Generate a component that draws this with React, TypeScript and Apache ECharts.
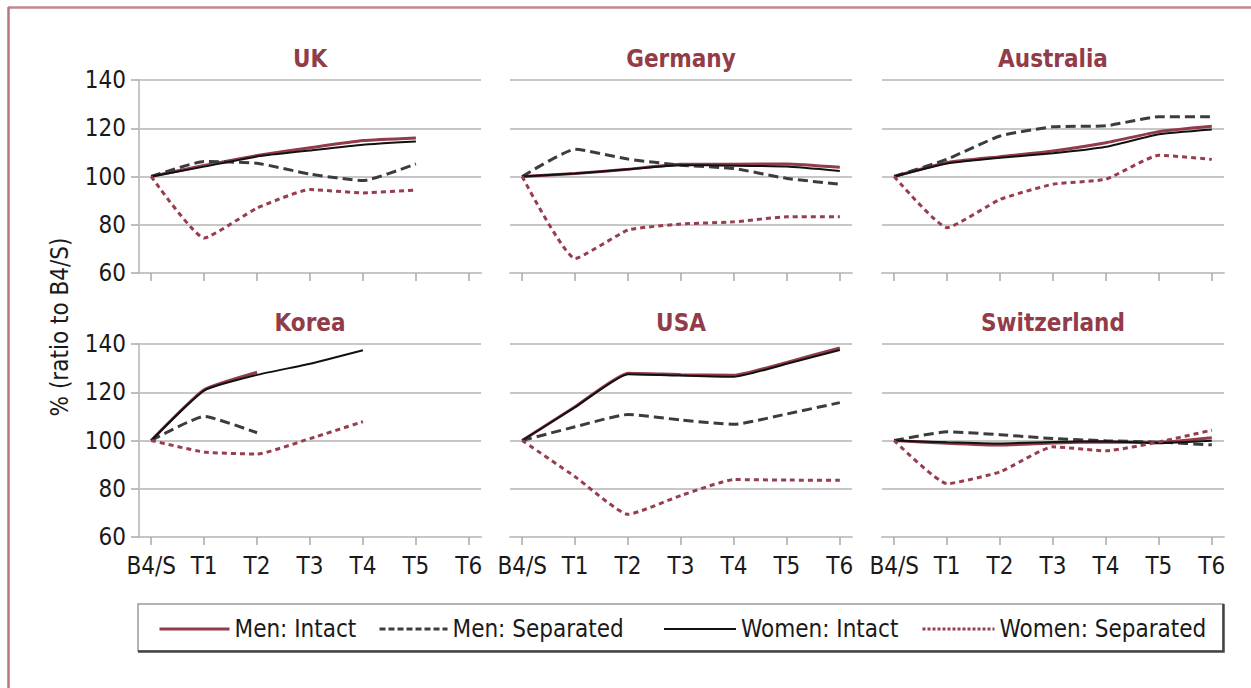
import React, { useEffect, useRef } from 'react';
import * as echarts from 'echarts';

const categories = ['B4/S', 'T1', 'T2', 'T3', 'T4', 'T5', 'T6'];
const countries = ['UK', 'Germany', 'Australia', 'Korea', 'USA', 'Switzerland'];
const seriesNames = ['Men: Intact', 'Men: Separated', 'Women: Intact', 'Women: Separated'];
const yTicks = [60, 80, 100, 120, 140];

// values per country, order of categories (null = no observation)
const ukMenIntact = [100, 104.6, 108.7, 111.9, 114.9, 116.0, null];
const ukMenSeparated = [100, 106.2, 105.5, 101.0, 98.3, 105.2, null];
const ukWomenIntact = [100, 104.1, 108.3, 110.8, 113.2, 114.5, null];
const ukWomenSeparated = [100, 74.5, 86.9, 94.6, 93.2, 94.4, null];

const deMenIntact = [100, 101.2, 103.0, 105.1, 105.1, 105.2, 103.8];
const deMenSeparated = [100, 111.3, 107.2, 104.7, 103.3, 99.2, 96.8];
const deWomenIntact = [100, 101.2, 103.0, 104.7, 104.5, 104.1, 102.3];
const deWomenSeparated = [100, 66.0, 77.8, 80.3, 81.2, 83.3, 83.3];

const auMenIntact = [100, 105.8, 108.2, 110.6, 114.0, 118.6, 120.8];
const auMenSeparated = [100, 107.2, 116.8, 120.6, 121.0, 124.8, 124.8];
const auWomenIntact = [100, 105.4, 107.8, 109.6, 112.3, 117.5, 119.5];
const auWomenSeparated = [100, 78.8, 90.5, 96.8, 98.9, 108.8, 107.1];

const krMenIntact = [100, 121.0, 128.3, null, null, null, null];
const krMenSeparated = [100, 110.0, 103.2, null, null, null, null];
const krWomenIntact = [100, 120.7, 127.2, 131.8, 137.4, null, null];
const krWomenSeparated = [100, 95.2, 94.4, 100.8, 107.8, null, null];

const usMenIntact = [100, 114.0, 127.9, 127.3, 127.0, 132.4, 138.4];
const usMenSeparated = [100, 105.7, 110.8, 108.5, 106.7, 111.0, 115.7];
const usWomenIntact = [100, 113.8, 127.5, 126.9, 126.4, 131.8, 137.5];
const usWomenSeparated = [100, 85.0, 69.4, 77.2, 83.8, 83.6, 83.5];

const chMenIntact = [100, 98.9, 98.1, 99.0, 99.4, 99.2, 101.1];
const chMenSeparated = [100, 103.6, 102.4, 100.8, 99.9, 99.3, 98.2];
const chWomenIntact = [100, 99.3, 98.8, 99.4, 99.7, 98.9, 99.9];
const chWomenSeparated = [100, 82.1, 87.0, 97.4, 95.7, 99.4, 104.3];

const countryData: (number | null)[][][] = [
  [ukMenIntact, ukMenSeparated, ukWomenIntact, ukWomenSeparated],
  [deMenIntact, deMenSeparated, deWomenIntact, deWomenSeparated],
  [auMenIntact, auMenSeparated, auWomenIntact, auWomenSeparated],
  [krMenIntact, krMenSeparated, krWomenIntact, krWomenSeparated],
  [usMenIntact, usMenSeparated, usWomenIntact, usWomenSeparated],
  [chMenIntact, chMenSeparated, chWomenIntact, chWomenSeparated],
];

const FONT = "'DejaVu Sans Condensed', 'Liberation Sans Narrow', 'DejaVu Sans', sans-serif";
const RED = '#923b49';
const GRID = '#b4b4b4';
const AXIS = '#c6c6c6';

const lineStyles = [
  { color: RED, width: 3, type: 'solid' as any },
  { color: '#3c3c3c', width: 3, type: [10, 5] as any },
  { color: '#111111', width: 2, type: 'solid' as any },
  { color: '#973d4d', width: 3, type: [5, 4] as any },
];
const legendDash: any[] = ['solid', [6, 3], 'solid', [3, 2]];
const drawOrder = [1, 3, 2, 0];

const gridLefts = [139, 510, 882];
const gridTops = [80, 344];
const gridW = 342;
const gridH = 193;
const tickIdx = categories.map((_, i) => i);

function buildOption(): any {
  const grids: any[] = [];
  const xAxes: any[] = [];
  const yAxes: any[] = [];
  const titles: any[] = [];
  const series: any[] = [];

  countries.forEach((name, k) => {
    const row = Math.floor(k / 3);
    const col = k % 3;
    const left = gridLefts[col];
    const top = gridTops[row];
    grids.push({ left, top, width: gridW, height: gridH, containLabel: false });
    titles.push({
      text: name,
      left: left + gridW / 2,
      top: top - 33,
      textAlign: 'center',
      padding: 0,
      textStyle: { color: RED, fontSize: 24, fontWeight: 'bold', fontFamily: FONT },
    });
    xAxes.push({
      type: 'value',
      gridIndex: k,
      min: -0.23,
      max: 6.23,
      axisLine: { show: true, onZero: false, lineStyle: { color: AXIS, width: 2 } },
      axisTick: {
        show: true,
        customValues: tickIdx,
        length: 8,
        lineStyle: { color: '#a8a8a8', width: 1.5 },
      },
      axisLabel: {
        show: row === 1,
        customValues: tickIdx,
        formatter: (v: number) => categories[Math.round(v)] ?? '',
        fontSize: 24,
        fontFamily: FONT,
        color: '#1a1a1a',
        margin: 17,
      },
      splitLine: { show: false },
    });
    yAxes.push({
      type: 'value',
      gridIndex: k,
      min: yTicks[0],
      max: yTicks[yTicks.length - 1],
      interval: 20,
      axisLine: { show: col === 0, onZero: false, lineStyle: { color: AXIS, width: 2 } },
      axisTick: { show: col === 0, length: 8, lineStyle: { color: '#a8a8a8', width: 1.5 } },
      axisLabel: {
        show: col === 0,
        fontSize: 24,
        fontFamily: FONT,
        color: '#1a1a1a',
        margin: 13,
      },
      splitLine: { show: true, lineStyle: { color: GRID, width: 1.5 } },
    });
    drawOrder.forEach((s) => {
      const vals = countryData[k][s];
      const data = vals
        .map((v, i) => (v == null ? null : [i, v]))
        .filter((d) => d !== null);
      series.push({
        type: 'line',
        name: seriesNames[s],
        xAxisIndex: k,
        yAxisIndex: k,
        data,
        smooth: 0.15,
        symbol: 'none',
        lineStyle: lineStyles[s],
        itemStyle: { color: lineStyles[s].color },
        z: 2 + s,
      });
    });
  });

  const legendPos = [
    { left: 158, w: 70 },
    { left: 378, w: 68 },
    { left: 663, w: 72 },
    { left: 921, w: 72 },
  ];
  const legends = seriesNames.map((n, i) => ({
    data: [n],
    left: legendPos[i].left,
    top: 617,
    padding: 0,
    itemWidth: legendPos[i].w,
    itemHeight: 14,
    selectedMode: false,
    itemStyle: { color: 'rgba(0,0,0,0)', borderWidth: 0, opacity: 0 },
    lineStyle: {
      color: lineStyles[i].color,
      width: i === 2 ? 2 : 3,
      type: legendDash[i],
    },
    textStyle: { fontSize: 24, fontFamily: FONT, color: '#1a1a1a' },
  }));

  return {
    animation: false,
    backgroundColor: '#ffffff',
    title: titles,
    grid: grids,
    xAxis: xAxes,
    yAxis: yAxes,
    legend: legends,
    series,
    graphic: [
      {
        type: 'line',
        shape: { x1: 8, y1: 7.5, x2: 1251, y2: 7.5 },
        style: { stroke: '#c08990', lineWidth: 2.5 },
      },
      {
        type: 'line',
        shape: { x1: 8.5, y1: 7, x2: 8.5, y2: 688 },
        style: { stroke: '#b57880', lineWidth: 2.5 },
      },
      {
        type: 'rect',
        shape: { x: 138, y: 604, width: 1085, height: 47 },
        style: { fill: 'none', stroke: '#9a9a9a', lineWidth: 1.5 },
      },
      {
        type: 'polyline',
        shape: { points: [[138, 651.5], [1223.5, 651.5], [1223.5, 604]] },
        style: { fill: 'none', stroke: '#444444', lineWidth: 2.5 },
      },
      {
        type: 'text',
        x: 60,
        y: 327,
        rotation: Math.PI / 2,
        style: {
          text: '% (ratio to B4/S)',
          fontSize: 24,
          fontFamily: FONT,
          fill: '#1a1a1a',
          textAlign: 'center',
          textVerticalAlign: 'middle',
        },
      },
    ],
  };
}

export default function App() {
  const ref = useRef<HTMLDivElement>(null);
  useEffect(() => {
    if (!ref.current) return;
    const chart = echarts.init(ref.current, undefined, { renderer: 'svg' });
    chart.setOption(buildOption());
    return () => chart.dispose();
  }, []);
  return (
    <div
      ref={ref}
      style={{ position: 'absolute', left: 0, top: 0, width: 1251, height: 688, background: '#fff' }}
    />
  );
}
